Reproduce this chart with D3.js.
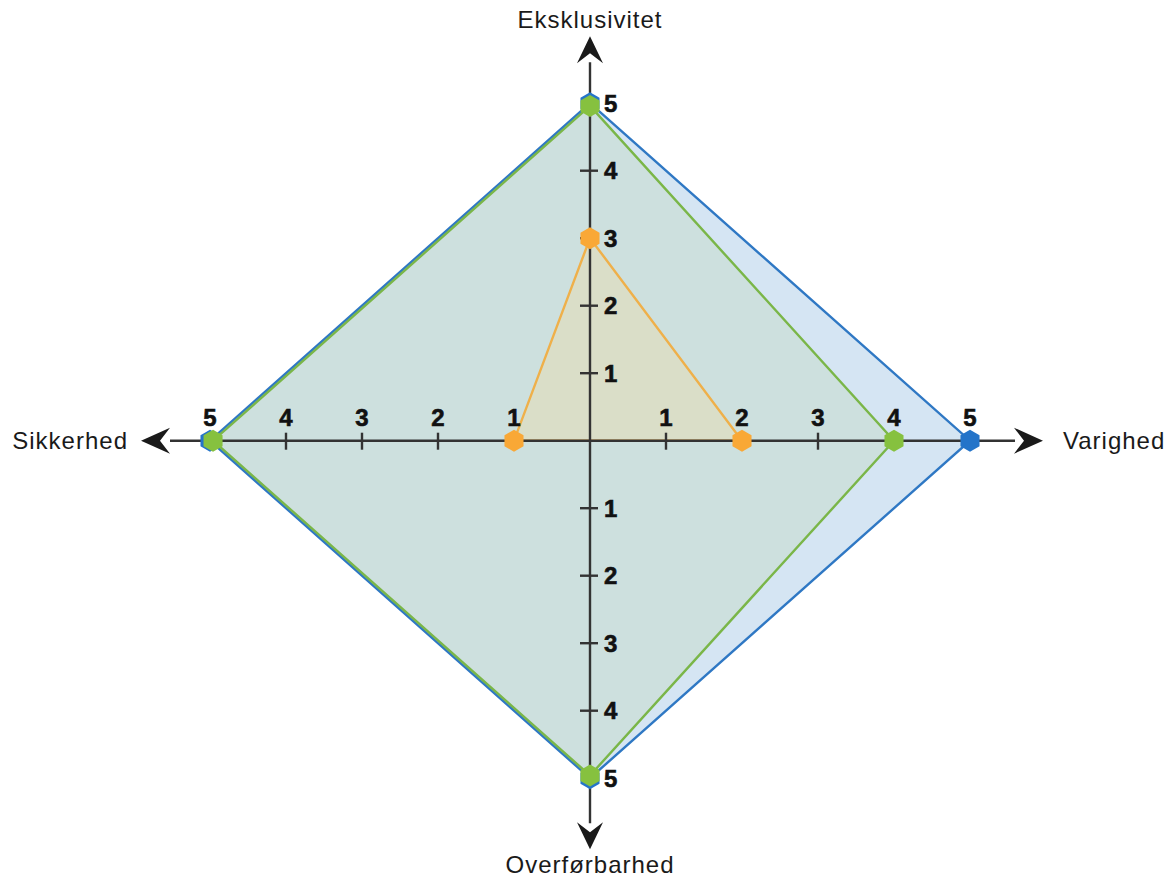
<!DOCTYPE html>
<html><head><meta charset="utf-8">
<script src="https://cdn.jsdelivr.net/npm/d3@7"></script>
<style>body{margin:0;background:#fff}svg{display:block}</style>
</head><body>
<svg id="c" width="1169" height="879"></svg>
<script>
// axes in drawing order: top, right, bottom, left
const axes = ["Eksklusivitet", "Varighed", "Overførbarhed", "Sikkerhed"];
const tickValues = [1, 2, 3, 4, 5];
const seriesNames = ["Blå", "Grøn", "Orange"];
const blueValues = [5, 5, 5, 5];
const greenValues = [4.96, 4, 4.96, 4.96];
const orangeValues = [3, 2, 0, 1];

const svg = d3.select("#c");
const cx = 590, cy = 440.7;
const sx = d3.scaleLinear().domain([0, 5]).range([0, 380]);
const sy = d3.scaleLinear().domain([0, 5]).range([0, 337.5]);
const dirs = [[0, -1], [1, 0], [0, 1], [-1, 0]];
function pt(i, v) {
  const d = dirs[i];
  return [cx + d[0] * sx(v), cy + d[1] * sy(v)];
}
const font = "'Liberation Sans', Arial, sans-serif";

const series = [
  {vals: blueValues, fill: "#d5e5f3", fo: 1, stroke: "#2f78c4", marker: "#2474c9"},
  {vals: greenValues, fill: "rgb(188,211,174)", fo: 0.3, stroke: "#7ab648", marker: "#86c13f"},
  {vals: orangeValues, fill: "rgb(250,218,150)", fo: 0.3, stroke: "#efb04a", marker: "#f9a836"}
];
const line = d3.line().curve(d3.curveLinearClosed);
const gPoly = svg.append("g");
series.forEach(s => {
  gPoly.append("path")
    .attr("d", line(s.vals.map((v, i) => pt(i, v))))
    .attr("fill", s.fill).attr("fill-opacity", s.fo)
    .attr("stroke", s.stroke).attr("stroke-width", 2.4).attr("stroke-linejoin", "miter");
});

// axes
const gAx = svg.append("g");
const axStroke = "#333";
gAx.append("line").attr("x1", cx).attr("x2", cx).attr("y1", cy - sy(5) - 41).attr("y2", cy + sy(5) + 45)
  .attr("stroke", axStroke).attr("stroke-width", 2.4);
gAx.append("line").attr("x1", cx - sx(5) - 40).attr("x2", cx + sx(5) + 45).attr("y1", cy).attr("y2", cy)
  .attr("stroke", axStroke).attr("stroke-width", 2.4);

// arrowheads (stealth) pointing along direction
function arrow(i, back, len, half, notch) {
  const d = dirs[i];
  const n = [-d[1], d[0]];
  const bx = d[0] ? cx + d[0] * back : cx, by = d[1] ? cy + d[1] * back : cy;
  const tip = [bx + d[0] * len, by + d[1] * len];
  const p1 = [bx + n[0] * half, by + n[1] * half];
  const p2 = [bx + d[0] * notch, by + d[1] * notch];
  const p3 = [bx - n[0] * half, by - n[1] * half];
  return "M" + [tip, p1, p2, p3].map(p => p.join(",")).join("L") + "Z";
}
gAx.append("path").attr("d", arrow(0, sy(5) + 40, 27, 13, 10)).attr("fill", "#1a1a1a");
gAx.append("path").attr("d", arrow(2, sy(5) + 44, 27, 13, 10)).attr("fill", "#1a1a1a");
gAx.append("path").attr("d", arrow(1, sx(5) + 44, 29, 13, 10)).attr("fill", "#1a1a1a");
gAx.append("path").attr("d", arrow(3, sx(5) + 40, 29, 13, 10)).attr("fill", "#1a1a1a");

// ticks
tickValues.filter(v => v < 5).forEach(v => {
  [1, 3].forEach(i => {
    const p = pt(i, v);
    gAx.append("line").attr("x1", p[0]).attr("x2", p[0]).attr("y1", cy - 8).attr("y2", cy + 9)
      .attr("stroke", axStroke).attr("stroke-width", 2.4);
  });
  [0, 2].forEach(i => {
    const p = pt(i, v);
    gAx.append("line").attr("x1", cx - 10).attr("x2", cx + 8).attr("y1", p[1]).attr("y2", p[1])
      .attr("stroke", axStroke).attr("stroke-width", 2.4);
  });
});

// markers (hexagons, pointy top)
function hex(x, y, r) {
  const pts = d3.range(6).map(k => {
    const a = Math.PI / 180 * (60 * k - 90);
    return [x + r * Math.cos(a), y + r * Math.sin(a)];
  });
  return "M" + pts.map(p => p.join(",")).join("L") + "Z";
}
const gM = svg.append("g");
series.forEach(s => {
  s.vals.forEach((v, i) => {
    if (v <= 0) return;
    const p = pt(i, v);
    gM.append("path").attr("d", hex(p[0], p[1], 11)).attr("fill", s.marker);
  });
});

// tick labels
const gL = svg.append("g").attr("font-family", font).attr("font-weight", "bold").attr("font-size", 24)
  .attr("fill", "#111").attr("stroke", "#111").attr("stroke-width", 0.6);
tickValues.forEach(v => {
  [1, 3].forEach(i => {
    const p = pt(i, v);
    gL.append("text").attr("x", p[0]).attr("y", cy - 15).attr("text-anchor", "middle").text(v);
  });
  [0, 2].forEach(i => {
    const p = pt(i, v);
    gL.append("text").attr("x", cx + 14).attr("y", p[1]).attr("dy", "0.36em").text(v);
  });
});

// axis titles
const gT = svg.append("g").attr("font-family", font).attr("font-size", 24).attr("letter-spacing", 1).attr("fill", "#1a1a1a");
gT.append("text").attr("x", cx).attr("y", 28).attr("text-anchor", "middle").text(axes[0]);
gT.append("text").attr("x", 1063).attr("y", cy).attr("dy", "0.36em").text(axes[1]);
gT.append("text").attr("x", cx).attr("y", 873).attr("text-anchor", "middle").text(axes[2]);
gT.append("text").attr("x", 128).attr("y", cy).attr("dy", "0.36em").attr("text-anchor", "end").text(axes[3]);
</script>
</body></html>
